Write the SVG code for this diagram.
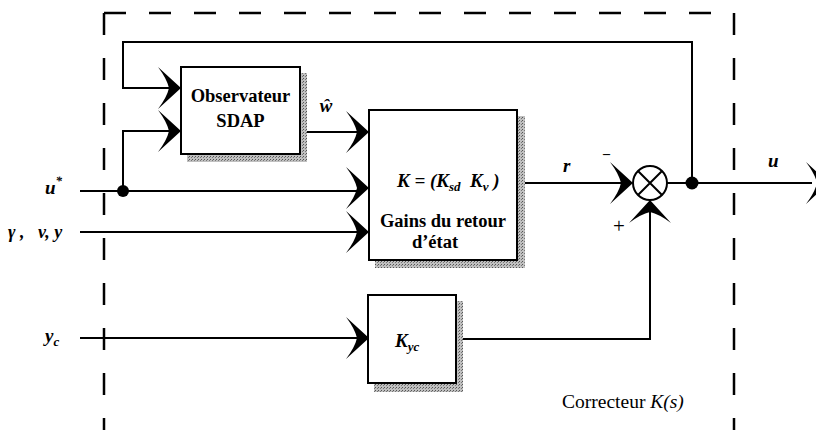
<svg xmlns="http://www.w3.org/2000/svg" width="816" height="430" viewBox="0 0 816 430">
<style>
.ln{fill:none;stroke:#000;stroke-width:2}
.dash{fill:none;stroke:#000;stroke-width:2.5;stroke-dasharray:22 23}
.box{fill:#fff;stroke:#000;stroke-width:2}
text{font-family:'Liberation Serif','DejaVu Serif',serif;fill:#000}
.b{font-weight:bold}
.bi{font-weight:bold;font-style:italic}
.i{font-style:italic}
</style>
<defs>
<path id="ah" d="M0,0 L-23,-21 Q-14,-9 -12,0 Q-14,9 -23,21 Z" fill="#000"/>
<pattern id="dith" width="3" height="3" patternUnits="userSpaceOnUse">
<rect width="3" height="3" fill="#c0c0c0"/>
<rect width="1" height="1" fill="#555"/>
<rect x="2" y="1" width="1" height="1" fill="#777"/>
</pattern>
</defs>
<g id="frame">
<path class="dash" d="M104,13 V430"/>
<path class="dash" d="M104,13 H734 V430"/>
</g>
<g id="connectors">
<path class="ln" d="M692,183 V42 H123 V88 H170"/>
<path class="ln" d="M123,191 V131 H170"/>
<path class="ln" d="M80,191 H358"/>
<path class="ln" d="M80,232 H358"/>
<path class="ln" d="M300,132 H358"/>
<path class="ln" d="M80,338 H358"/>
<path class="ln" d="M517,183 H622"/>
<path class="ln" d="M456,339 H650 V211"/>
<path class="ln" d="M667,183 H812"/>
<circle cx="123" cy="191" r="6"/>
<circle cx="692" cy="183" r="6.5"/>
<use href="#ah" transform="translate(181,88)"/>
<use href="#ah" transform="translate(181,131)"/>
<use href="#ah" transform="translate(369,132)"/>
<use href="#ah" transform="translate(369,188)"/>
<use href="#ah" transform="translate(369,232)"/>
<use href="#ah" transform="translate(369,338)"/>
<use href="#ah" transform="translate(633,183)"/>
<use href="#ah" transform="translate(650,200) rotate(-90)"/>
<use href="#ah" transform="translate(829,183)"/>
</g>
<g id="observateur">
<rect x="187" y="73" width="120" height="89" style="fill:url(#dith)"/>
<rect class="box" x="181" y="67" width="119" height="87"/>
<text class="b" x="240.5" y="102" font-size="18.5" text-anchor="middle">Observateur</text>
<text class="b" x="240.5" y="127" font-size="18.5" text-anchor="middle">SDAP</text>
</g>
<g id="gains">
<rect x="375" y="116" width="150" height="152" style="fill:url(#dith)"/>
<rect class="box" x="369" y="110" width="148" height="150"/>
<text class="bi" x="397" y="187" font-size="19" xml:space="preserve">K = (K<tspan font-size="13" dy="4">sd</tspan><tspan dy="-4">  K</tspan><tspan font-size="13" dy="4">v</tspan><tspan dy="-4"> )</tspan></text>
<text class="b" x="443" y="227" font-size="18.5" text-anchor="middle">Gains du retour</text>
<text class="b" x="435" y="248" font-size="18.5" text-anchor="middle">d’état</text>
</g>
<g id="kyc">
<rect x="374" y="301" width="89" height="91" style="fill:url(#dith)"/>
<rect class="box" x="368" y="295" width="88" height="88"/>
<text class="bi" x="395" y="347" font-size="19">K<tspan font-size="13" dy="4">yc</tspan></text>
</g>
<g id="sum">
<circle cx="650" cy="183" r="17" class="ln" fill="#fff"/>
<path class="ln" d="M638,171 L662,195 M662,171 L638,195"/>
</g>
<g id="labels">
<text class="bi" x="326" y="112" font-size="19" text-anchor="middle">ŵ</text>
<text class="bi" x="45" y="194" font-size="19">u<tspan font-size="13" dy="-9">*</tspan></text>
<text class="bi" x="8" y="238" font-size="18" xml:space="preserve">γ ,   v, y</text>
<text class="bi" x="45" y="342" font-size="19">y<tspan font-size="13" dy="4">c</tspan></text>
<text class="bi" x="563" y="172" font-size="19">r</text>
<text class="b" x="603" y="158" font-size="14">–</text>
<text x="613" y="233" font-size="21">+</text>
<text class="bi" x="768" y="167" font-size="19">u</text>
<text x="562" y="408" font-size="19.5">Correcteur <tspan class="i">K(s)</tspan></text>
</g>
</svg>
